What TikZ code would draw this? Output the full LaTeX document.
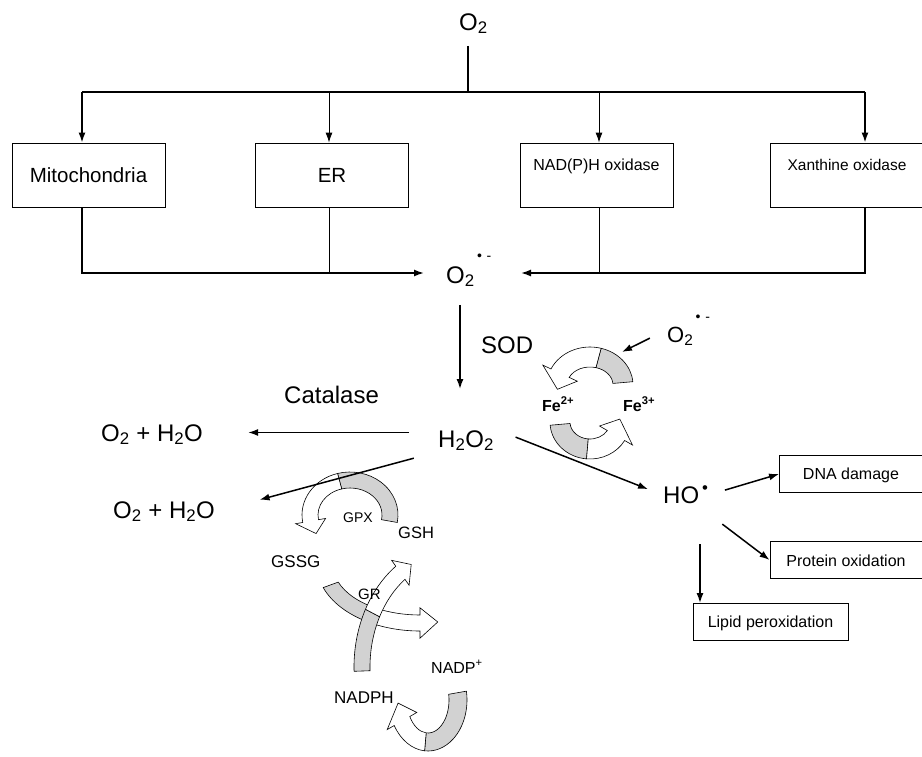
\documentclass[tikz,border=0pt]{standalone}
\usepackage{fontspec}
\setmainfont{Liberation Sans}
\usetikzlibrary{arrows.meta}

% centre, x radius, y radius, band width, start, split, end angle
\newcommand{\cyclearrow}[7]{%
  \pgfmathsetmacro{\cxo}{#2+#4/2}\pgfmathsetmacro{\cyo}{#3+#4/2}%
  \pgfmathsetmacro{\cxi}{#2-#4/2}\pgfmathsetmacro{\cyi}{#3-#4/2}%
  \pgfmathsetmacro{\hxo}{#2+0.95*#4}\pgfmathsetmacro{\hyo}{#3+0.95*#4}%
  \pgfmathsetmacro{\hxi}{#2-0.95*#4}\pgfmathsetmacro{\hyi}{#3-0.95*#4}%
  \pgfmathsetmacro{\tipa}{#7+sign(#7-#5)*deg(0.9*#4/((#2+#3)/2))}%
  \begin{scope}[shift={#1},line width=0.6pt]
    \draw[fill=gray!35] (#5:{\cxo} and {\cyo}) arc[start angle=#5,end angle=#6,x radius=\cxo,y radius=\cyo]
      -- (#6:{\cxi} and {\cyi}) arc[start angle=#6,end angle=#5,x radius=\cxi,y radius=\cyi] -- cycle;
    \draw[fill=white] (#6:{\cxo} and {\cyo}) arc[start angle=#6,end angle=#7,x radius=\cxo,y radius=\cyo]
      -- (#7:{\hxo} and {\hyo}) -- ({\tipa}:#2 and #3) -- (#7:{\hxi} and {\hyi}) -- (#7:{\cxi} and {\cyi})
      arc[start angle=#7,end angle=#6,x radius=\cxi,y radius=\cyi] -- cycle;
  \end{scope}}

\begin{document}
\begin{tikzpicture}[x=1pt,y=1pt,>={Latex[length=10pt,width=7pt]},
  big/.style={font=\fontsize{24}{28}\selectfont,inner sep=1pt,anchor=base west},
  mid/.style={font=\fontsize{16}{19}\selectfont,inner sep=1pt,anchor=base west},
  sml/.style={font=\fontsize{14}{17}\selectfont,inner sep=1pt,anchor=base west},
  srcbox/.style={draw,line width=0.9pt,minimum width=153pt,minimum height=64pt,inner sep=0pt},
  effbox/.style={draw,line width=0.9pt,minimum height=37pt,inner sep=0pt,font=\fontsize{16}{19}\selectfont},
  flow/.style={->,line width=1.5pt}]

\useasboundingbox (0,0) rectangle (922,-756);

% cycles
\cyclearrow{(590,-385)}{33}{28}{20}{5}{75}{155}
\cyclearrow{(590,-422)}{30}{27}{20}{185}{265}{330}
\cyclearrow{(350,-515)}{40}{35}{16}{-10}{105}{190}
\cyclearrow{(420,-565)}{95}{58}{16}{200}{240}{270}
\cyclearrow{(452,-667)}{90}{115}{16}{182}{152}{125}
\cyclearrow{(428,-700)}{30}{42}{18}{10}{-95}{-150}

% sources
\node[big] (o2top) at (458,-30) {O\textsubscript{2}};

\node[srcbox,font=\fontsize{20.5}{24}\selectfont] (mito) at (88.5,-175) {Mitochondria};
\node[srcbox,font=\fontsize{20.5}{24}\selectfont] (er) at (332,-175) {ER};
\node[srcbox,font=\fontsize{16}{19}\selectfont,text depth=20pt] (nad) at (596.5,-175) {NAD(P)H oxidase};
\node[srcbox,font=\fontsize{15.5}{19}\selectfont,text depth=20pt] (xan) at (847,-175) {Xanthine oxidase};

\coordinate (bar) at (468,-92);
\coordinate (b1) at (82,-92);
\coordinate (b2) at (329,-92);
\coordinate (b3) at (599,-92);
\coordinate (b4) at (865,-92);
\coordinate (jl) at (424,-273);
\coordinate (jr) at (521,-273);

\draw[line width=2.2pt,shorten <=11pt] (o2top.south -| bar) -- (bar);
\draw[line width=2.2pt] (b1) -- (b4);
\draw[flow] (b1) -- (b1 |- mito.north);
\draw[->,line width=0.9pt] (b2) -- (b2 |- er.north);
\draw[->,line width=0.9pt] (b3) -- (b3 |- nad.north);
\draw[flow] (b4) -- (b4 |- xan.north);

\draw[flow] (mito.south -| b1) |- (jl);
\draw[line width=0.9pt] (er.south -| b2) -- (b2 |- jl);
\draw[flow] (xan.south -| b4) |- (jr);
\draw[line width=0.9pt] (nad.south -| b3) -- (b3 |- jr);

% superoxide and peroxide
\node[big] (o2mid) at (445,-283) {O\textsubscript{2}\raisebox{0.95em}{\fontsize{14}{14}\selectfont\,•\,\,-}};
\node[big] (sod) at (480,-353) {SOD};
\node[big] (h2o2) at (437,-447) {H\textsubscript{2}O\textsubscript{2}};
\node[big] (cat) at (283,-403) {Catalase};
\node[big] (w1) at (100,-441) {O\textsubscript{2} + H\textsubscript{2}O};
\node[big] (w2) at (112,-518) {O\textsubscript{2} + H\textsubscript{2}O};

\draw[flow,shorten <=17pt,shorten >=40pt] ([xshift=15pt]o2mid.south west) -- ([xshift=15pt]o2mid.south west |- h2o2.north);
\draw[flow,shorten <=28pt,shorten >=44pt] ([yshift=8pt]h2o2.west) -- ([yshift=8pt]h2o2.west -| w1.east);
\draw[flow,shorten <=24pt,shorten >=45pt] (h2o2.south west) -- (w2.east);

% iron cycle
\node[big,font=\fontsize{22}{26}\selectfont] (o2r) at (666,-342) {O\textsubscript{2}\raisebox{0.95em}{\fontsize{14}{14}\selectfont\,•\,\,-}};
\node[mid,font=\bfseries\fontsize{16}{19}\selectfont] (fe2) at (541,-411) {Fe\textsuperscript{2+}};
\node[mid,font=\bfseries\fontsize{16}{19}\selectfont] (fe3) at (622,-411) {Fe\textsuperscript{3+}};
\coordinate (feend) at (622,-352);
\draw[flow,shorten <=18pt] (o2r.west) -- (feend);

% hydroxyl radical
\node[big] (ho) at (662,-503) {HO\textsuperscript{\,•}};
\node[effbox,minimum width=143pt,text height=14pt] (dna) at (851,-474) {DNA damage};
\node[effbox,minimum width=152pt,text height=14pt] (prot) at (846,-560) {Protein oxidation};
\node[effbox,minimum width=155pt,text height=14pt] (lip) at (770.5,-622) {Lipid peroxidation};

\draw[flow,shorten <=22pt,shorten >=15pt] (h2o2.north east) -- (ho.west);
\draw[flow,shorten <=16pt] (ho.east) -- (dna.west);
\draw[flow,shorten <=16pt] ([yshift=-10pt]ho.south east) -- (prot.west);
\coordinate (holow) at (700,-544);
\draw[flow] (holow) -- (holow |- lip.north);

% glutathione
\node[sml] (gpx) at (342,-522) {GPX};
\node[mid,font=\fontsize{16.5}{19}\selectfont] (gsh) at (397,-538) {GSH};
\node[mid,font=\fontsize{17}{20}\selectfont] (gssg) at (270,-567) {GSSG};
\node[sml,font=\fontsize{15}{18}\selectfont] (gr) at (357,-599) {GR};
\node[mid,font=\fontsize{17}{20}\selectfont] (nadph) at (333,-703) {NADPH};
\node[mid] (nadp) at (430,-673) {NADP\textsuperscript{+}};

\end{tikzpicture}
\end{document}
